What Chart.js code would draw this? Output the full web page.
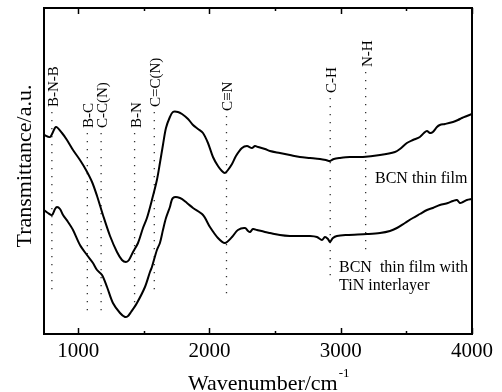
<!DOCTYPE html>
<html>
<head>
<meta charset="utf-8">
<script src="https://cdn.jsdelivr.net/npm/chart.js@4.4.1/dist/chart.umd.min.js"></script>
<style>
  html, body { margin: 0; padding: 0; background: #fff; }
  #wrap { width: 502px; height: 392px; position: relative; }
</style>
</head>
<body>
<div id="wrap"><canvas id="c" width="502" height="392"></canvas></div>
<script>
// ---- data ----
const filmWavenumber = [740, 786, 831, 877, 915, 961, 1014, 1060, 1106, 1144, 1189, 1243, 1296, 1334, 1364, 1387, 1418, 1456, 1494, 1524, 1562, 1600, 1623, 1646, 1669, 1699, 1722, 1760, 1791, 1837, 1875, 1913, 1951, 1989, 2027, 2065, 2095, 2118, 2141, 2172, 2202, 2248, 2286, 2324, 2347, 2370, 2423, 2461, 2537, 2613, 2689, 2766, 2842, 2887, 2918, 2948, 2994, 3070, 3169, 3299, 3413, 3451, 3504, 3550, 3603, 3634, 3657, 3680, 3702, 3733, 3755, 3794, 3855, 3893, 3923, 3961, 4000];
const filmTransmittance = [199, 197, 207, 201, 194, 184, 174, 164, 152, 138, 119, 98, 82, 74, 72, 74, 82, 91, 106, 116, 134, 154, 171, 189, 206, 217, 222, 222, 220, 215, 209, 205, 201, 191, 177, 168, 163, 161, 164, 170, 178, 186, 188, 186, 188, 187, 185, 183, 181, 179, 177, 176, 175, 174, 173, 175, 176, 177, 177, 179, 182, 185, 191, 194, 197, 201, 203, 201, 202, 207, 209, 210, 212, 214, 216, 218, 220];

const tinWavenumber = [740, 770, 801, 824, 839, 862, 885, 923, 961, 1014, 1067, 1113, 1144, 1182, 1220, 1265, 1319, 1357, 1380, 1403, 1448, 1509, 1547, 1562, 1600, 1623, 1646, 1669, 1699, 1722, 1776, 1829, 1875, 1951, 2004, 2065, 2118, 2172, 2217, 2271, 2294, 2309, 2332, 2362, 2423, 2461, 2537, 2613, 2689, 2766, 2819, 2857, 2880, 2903, 2918, 2941, 2971, 3047, 3200, 3299, 3375, 3428, 3489, 3550, 3603, 3657, 3702, 3755, 3816, 3855, 3885, 3908, 3931, 3961, 4000];
const tinTransmittance = [124, 121, 119, 125, 127, 125, 119, 112, 104, 89, 79, 71, 64, 59, 47, 31, 21, 17, 18, 22, 31, 47, 62, 67, 84, 91, 104, 116, 127, 136, 136, 131, 126, 119, 107, 96, 91, 97, 104, 106, 103, 102, 105, 104, 102, 101, 99, 98, 98, 98, 97, 94, 97, 95, 92, 96, 98, 99, 100, 101, 103, 106, 111, 116, 120, 124, 126, 129, 131, 133, 134, 131, 132, 134, 135];

const bandNames = ['B-N-B', 'B-C', 'C-C(N)', 'B-N', 'C=C(N)', 'C\u2261N', 'C-H', 'N-H'];
const bandWavenumber = [800, 1070, 1175, 1430, 1580, 2130, 2920, 3190];
const bandTop = [222, 201, 201, 201, 222, 218, 236, 262];
const bandBottom = [41, 21, 17, 26, 41, 34, 54, 82];

const xTickValues = [1000, 2000, 3000, 4000];
const xMinorTickValues = [1500, 2500, 3500];
const curveNames = ['BCN thin film', 'BCN  thin film with', 'TiN interlayer'];

// ---- chart ----
const SERIF = '"Liberation Serif", "Times New Roman", serif';

function pts(xs, ys) { return xs.map((x, i) => ({ x: x, y: ys[i] })); }

const datasets = [
  { data: pts(filmWavenumber, filmTransmittance), borderColor: '#000', borderWidth: 2, pointRadius: 0, tension: 0.3, fill: false },
  { data: pts(tinWavenumber, tinTransmittance), borderColor: '#000', borderWidth: 2, pointRadius: 0, tension: 0.3, fill: false }
];
bandWavenumber.forEach((w, i) => {
  datasets.push({
    data: [{ x: w, y: bandTop[i] }, { x: w, y: bandBottom[i] }],
    borderColor: '#333', borderWidth: 1.3, borderDash: [1.3, 6.7], pointRadius: 0, fill: false, tension: 0
  });
});

const decorPlugin = {
  id: 'decor',
  afterDraw(chart) {
    const ctx = chart.ctx, a = chart.chartArea;
    const xs = chart.scales.x, ys = chart.scales.y;
    ctx.save();
    // frame
    ctx.strokeStyle = '#000'; ctx.lineWidth = 2;
    ctx.strokeRect(a.left, a.top, a.right - a.left, a.bottom - a.top);
    // inward ticks
    ctx.lineWidth = 1.5;
    xTickValues.concat(xMinorTickValues).forEach(v => {
      const len = xTickValues.includes(v) ? 6 : 3;
      const px = Math.round(xs.getPixelForValue(v)) + 0.5;
      ctx.beginPath(); ctx.moveTo(px, a.bottom); ctx.lineTo(px, a.bottom - len); ctx.stroke();
      ctx.beginPath(); ctx.moveTo(px, a.top); ctx.lineTo(px, a.top + len); ctx.stroke();
    });
    // band labels (rotated)
    ctx.fillStyle = '#000';
    ctx.font = '15px ' + SERIF;
    ctx.textAlign = 'left'; ctx.textBaseline = 'alphabetic';
    bandNames.forEach((n, i) => {
      const px = xs.getPixelForValue(bandWavenumber[i]);
      const py = ys.getPixelForValue(bandTop[i]) - 5;
      ctx.save(); ctx.translate(px + 6, py); ctx.rotate(-Math.PI / 2);
      ctx.fillText(n, 0, 0); ctx.restore();
    });
    // curve annotations
    ctx.font = '16px ' + SERIF;
    ctx.fillText(curveNames[0], xs.getPixelForValue(3261), ys.getPixelForValue(151));
    ctx.fillText(curveNames[1], xs.getPixelForValue(2987), ys.getPixelForValue(62));
    ctx.fillText(curveNames[2], xs.getPixelForValue(2987), ys.getPixelForValue(44));
    // axis titles
    ctx.font = '22px ' + SERIF;
    ctx.save(); ctx.translate(31, 166); ctx.rotate(-Math.PI / 2);
    ctx.textAlign = 'center'; ctx.fillText('Transmittance/a.u.', 0, 0); ctx.restore();
    ctx.textAlign = 'left';
    const t = 'Wavenumber/cm';
    const w = ctx.measureText(t).width;
    ctx.fillText(t, 188, 390);
    ctx.font = '13px ' + SERIF;
    ctx.fillText('-1', 188 + w + 1, 377);
    ctx.restore();
  }
};

new Chart(document.getElementById('c'), {
  type: 'line',
  data: { datasets: datasets },
  options: {
    responsive: false,
    animation: false,
    events: [],
    layout: { padding: { left: 44, right: 30, top: 8, bottom: 0 } },
    plugins: { legend: { display: false }, tooltip: { enabled: false } },
    scales: {
      x: {
        type: 'linear', min: 740, max: 4000,
        afterBuildTicks: s => { s.ticks = xTickValues.map(v => ({ value: v })); },
        afterFit: s => { s.height = 58; },
        grid: { display: false, drawTicks: false },
        border: { display: false },
        ticks: { color: '#000', font: { family: SERIF, size: 21 }, padding: 5, maxRotation: 0, autoSkip: false,
                 callback: v => String(v) }
      },
      y: {
        type: 'linear', min: 0, max: 326, display: false
      }
    }
  },
  plugins: [decorPlugin]
});
</script>
</body>
</html>
